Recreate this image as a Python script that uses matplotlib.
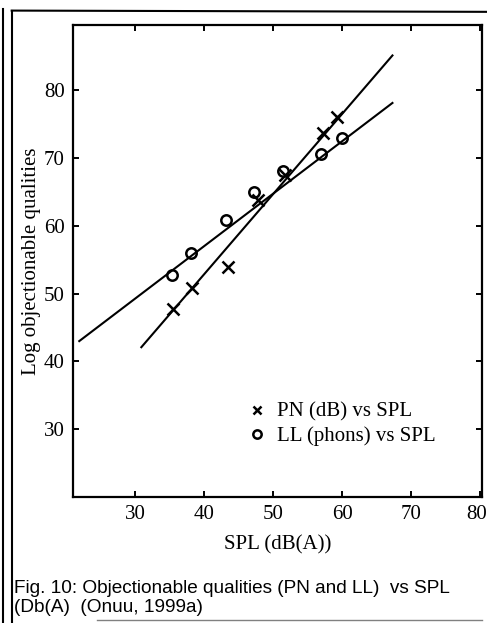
import matplotlib
matplotlib.use("Agg")
import matplotlib.pyplot as plt
import matplotlib.transforms as mtransforms
from matplotlib.lines import Line2D

# data
pn_spl = [35.5, 38.2, 43.4, 47.8, 51.7, 57.3, 59.2]
pn_val = [47.8, 50.8, 53.9, 63.8, 67.5, 73.7, 76.0]
ll_spl = [35.3, 38.1, 43.1, 47.3, 51.4, 56.9, 60.0]
ll_val = [52.8, 56.0, 60.9, 65.0, 68.0, 70.6, 73.0]

# fitted lines (end points)
pn_fit_x = [30.9, 67.3]
pn_fit_y = [42.1, 85.1]
ll_fit_x = [21.9, 67.3]
ll_fit_y = [43.0, 78.1]

xticks = [30, 40, 50, 60, 70, 80]
yticks = [30, 40, 50, 60, 70, 80]

serif = ['Liberation Serif', 'DejaVu Serif']

fig = plt.figure(figsize=(4.87, 6.23), dpi=100)
ax = fig.add_axes([0.150, 0.202, 0.840, 0.758])

ax.plot(pn_fit_x, pn_fit_y, color='black', lw=1.5)
ax.plot(ll_fit_x, ll_fit_y, color='black', lw=1.5)
ax.plot(pn_spl, pn_val, 'x', color='black', ms=8, mew=1.8, label='PN (dB) vs SPL')
ax.plot(ll_spl, ll_val, 'o', mfc='none', mec='black', ms=7.5, mew=1.8, label='LL (phons) vs SPL')

ax.set_xlim(21, 80.3)
ax.set_ylim(20, 89.6)
ax.set_xticks(xticks)
ax.set_yticks(yticks)
ax.tick_params(direction='in', top=True, right=True, length=4, width=1.4,
               labelsize=15, pad=6)
for lab in ax.get_xticklabels() + ax.get_yticklabels():
    lab.set_family(serif)
# last x label sits against the page edge in the scan
last = ax.get_xticklabels()[-1]
last.set_transform(last.get_transform() +
                   mtransforms.ScaledTranslation(-3 / 100, 0, fig.dpi_scale_trans))
for s in ax.spines.values():
    s.set_linewidth(1.6)

ax.set_xlabel('SPL (dB(A))', family=serif, fontsize=15, labelpad=8)
ax.set_ylabel('Log objectionable qualities', family=serif, fontsize=15, labelpad=2)

ax.legend(loc='lower left', bbox_to_anchor=(0.413, 0.091), frameon=False,
          prop={'family': serif, 'size': 15}, handlelength=0.6,
          handletextpad=0.7, labelspacing=0.2, borderaxespad=0, markerscale=0.8)

fig.text(0.028, 0.012, 'Fig. 10: Objectionable qualities (PN and LL)  vs SPL\n(Db(A)  (Onuu, 1999a)',
         family=['Liberation Sans', 'DejaVu Sans'], fontsize=13.7, ha='left', va='bottom',
         linespacing=1.15)

# scanned page frame
fig.add_artist(Line2D([0.007, 0.007], [0.0, 0.985], color='black', lw=1.5))
fig.add_artist(Line2D([0.024, 0.024], [0.0, 0.983], color='black', lw=1.5))
fig.add_artist(Line2D([0.024, 1.0], [0.983, 0.981], color='black', lw=1.5))
fig.add_artist(Line2D([0.2, 0.99], [0.005, 0.005], color='grey', lw=1.0))

fig.savefig('out.png', dpi=100)
